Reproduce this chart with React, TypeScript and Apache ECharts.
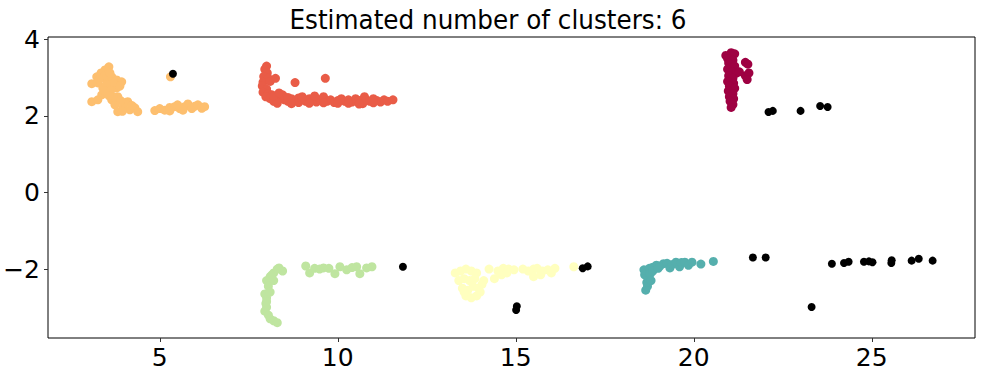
import React, { useEffect, useRef } from "react";
import * as echarts from "echarts";

const titleText = "Estimated number of clusters: 6";
const xTicks = [5, 10, 15, 20, 25];
const yTicks = [-2, 0, 2, 4];

const clusterColors = ["#9e0142", "#e95c47", "#fdbf6f", "#ffffbf", "#bfe5a0", "#55afad"];
const noiseColor = "#000000";

const cluster0 = [
  [21.05, 3.65], [20.9, 3.58], [21.15, 3.62], [20.95, 3.5], [21.1, 3.45], [20.98, 3.38],
  [21.15, 3.3], [20.95, 3.22], [21.08, 3.15], [21.2, 3.12], [20.98, 3.05], [21.1, 2.98],
  [20.95, 2.9], [21.12, 2.85], [21.0, 2.78], [21.15, 2.72], [20.97, 2.65], [21.1, 2.58],
  [21.0, 2.5], [21.12, 2.45], [21.02, 2.38], [21.1, 2.3], [21.05, 2.22], [21.45, 3.4],
  [21.52, 3.35], [21.45, 3.05], [21.55, 3.12], [21.5, 2.95], [21.28, 3.15],
];

const cluster1 = [
  [8.0, 3.3], [7.95, 3.22], [8.02, 3.12], [7.92, 3.03], [8.05, 2.98], [7.9, 2.88], [8.1, 2.9],
  [7.88, 2.78], [8.0, 2.7], [7.9, 2.62], [8.05, 2.58], [8.25, 2.98], [8.15, 2.55], [7.98, 2.5],
  [8.1, 2.45], [8.3, 2.45], [8.2, 2.38], [8.4, 2.5], [8.5, 2.42], [8.6, 2.38], [8.7, 2.45],
  [8.8, 2.4], [8.9, 2.47], [8.8, 2.87], [8.9, 2.35], [9.0, 2.42], [9.1, 2.38], [9.2, 2.45],
  [9.3, 2.4], [9.4, 2.36], [9.5, 2.42], [9.6, 2.5], [9.65, 2.98], [9.7, 2.38], [9.8, 2.42],
  [9.9, 2.35], [10.0, 2.4], [10.1, 2.45], [10.2, 2.38], [10.3, 2.42], [10.4, 2.36], [10.5, 2.45],
  [10.6, 2.4], [10.7, 2.32], [10.75, 2.5], [10.8, 2.42], [10.9, 2.38], [11.0, 2.45], [11.1, 2.4],
  [11.2, 2.36], [11.3, 2.42], [11.4, 2.38], [11.55, 2.42], [9.0, 2.5], [8.45, 2.55], [8.6, 2.48],
  [10.3, 2.33], [9.35, 2.52], [8.3, 2.33], [8.7, 2.32], [9.2, 2.33], [9.6, 2.34], [10.0, 2.33],
  [10.6, 2.31], [11.0, 2.34], [8.2, 2.52], [8.35, 2.6],
];

const cluster2 = [
  [3.57, 3.28], [3.46, 3.2], [3.35, 3.12], [3.23, 3.02], [3.09, 2.84], [3.26, 2.86], [3.51, 2.94],
  [3.65, 3.02], [3.79, 2.94], [3.93, 2.89], [3.4, 2.73], [3.6, 2.76], [3.79, 2.73], [3.37, 2.55],
  [3.54, 2.6], [3.09, 2.37], [3.26, 2.42], [3.65, 2.42], [3.82, 2.5], [3.74, 2.29], [3.82, 2.11],
  [3.96, 2.21], [4.1, 2.37], [4.16, 2.16], [4.3, 2.21], [4.38, 2.11], [4.02, 2.34], [3.7, 2.5],
  [3.45, 3.05], [3.6, 3.12], [3.7, 2.85], [3.5, 2.82], [3.3, 2.95], [3.45, 2.66], [3.62, 2.66],
  [3.88, 2.78], [3.9, 2.4], [3.58, 2.52], [3.95, 2.12], [4.22, 2.27],
  [5.3, 3.02],
  [4.86, 2.14], [5.0, 2.19], [5.14, 2.15], [5.28, 2.22], [5.42, 2.24], [5.56, 2.19], [5.7, 2.24],
  [5.79, 2.31], [5.9, 2.19], [5.98, 2.25], [6.07, 2.29], [6.18, 2.2], [6.26, 2.24], [5.65, 2.15],
  [5.28, 2.13], [5.5, 2.29],
];

const cluster3 = [
  [13.3, -2.1], [13.45, -2.05], [13.6, -2.0], [13.75, -2.05], [13.9, -2.1], [13.4, -2.3],
  [13.55, -2.25], [13.7, -2.3], [13.85, -2.25], [13.5, -2.5], [13.65, -2.55], [13.8, -2.45],
  [13.95, -2.5], [14.05, -2.4], [13.6, -2.7], [13.75, -2.75], [13.9, -2.7], [14.0, -2.6],
  [13.55, -2.6], [14.1, -2.3],
  [14.25, -2.0], [14.5, -2.05], [14.65, -1.98], [14.8, -2.0], [14.95, -2.02], [14.6, -2.15],
  [14.4, -2.25], [14.75, -2.1], [15.2, -2.0], [15.35, -2.05], [15.5, -2.0], [15.6, -1.98],
  [15.75, -2.05], [15.9, -2.02], [16.0, -2.1], [15.7, -2.15], [15.5, -2.2], [16.1, -1.98],
  [16.63, -1.94],
];

const cluster4 = [
  [8.35, -1.97], [8.45, -2.05], [8.2, -2.1], [8.1, -2.2], [8.0, -2.3], [8.2, -2.3], [8.05, -2.45],
  [7.95, -2.65], [8.0, -2.75], [7.98, -2.9], [8.0, -3.0], [7.95, -3.1], [8.05, -3.2], [8.1, -3.3],
  [8.2, -3.35], [8.3, -3.4], [8.1, -2.6], [8.0, -2.85], [8.15, -2.15], [8.3, -2.0],
  [9.1, -1.92], [9.21, -2.1], [9.35, -1.98], [9.49, -2.0], [9.6, -1.97], [9.75, -1.98],
  [9.92, -2.12], [10.06, -1.94], [10.25, -2.02], [10.4, -1.96], [10.53, -1.94], [10.62, -2.12],
  [10.81, -1.97], [10.96, -1.94],
];

const cluster5 = [
  [18.65, -2.55], [18.7, -2.45], [18.68, -2.35], [18.72, -2.25], [18.62, -2.15], [18.7, -2.08],
  [18.6, -2.02], [18.75, -1.98], [18.85, -1.95], [18.78, -2.12], [18.8, -2.3], [18.95, -1.9],
  [19.05, -1.92], [19.15, -1.86], [19.25, -1.85], [19.33, -1.97], [19.4, -1.88], [19.5, -1.82],
  [19.6, -1.94], [19.65, -1.83], [19.75, -1.82], [19.85, -1.9], [19.95, -1.82], [20.2, -1.87],
  [20.55, -1.8], [18.85, -2.05], [19.0, -1.98],
];

const noise = [
  [5.37, 3.1], [22.1, 2.1], [22.22, 2.13], [23.0, 2.13], [23.55, 2.26], [23.76, 2.23],
  [11.83, -1.94], [16.88, -1.98], [17.02, -1.93], [15.03, -2.97], [15.01, -3.07],
  [21.66, -1.7], [22.02, -1.7], [23.88, -1.86], [24.22, -1.84], [24.35, -1.81], [24.78, -1.81],
  [24.92, -1.8], [25.02, -1.82], [25.56, -1.77], [25.55, -1.84], [26.12, -1.78], [26.32, -1.73],
  [26.71, -1.78], [23.31, -2.99],
];

const clusters = [cluster0, cluster1, cluster2, cluster3, cluster4, cluster5];

export default function App() {
  const ref = useRef<HTMLDivElement>(null);
  useEffect(() => {
    document.body.style.margin = "0";
    if (!ref.current) return;
    const chart = echarts.init(ref.current, null, { renderer: "svg" });
    const font = "DejaVu Sans";
    const series: any[] = clusters.map((d, i) => ({
      type: "scatter",
      data: d,
      symbol: "circle",
      symbolSize: 9,
      itemStyle: { color: clusterColors[i], opacity: 1 },
      silent: true,
    }));
    series.push({
      type: "scatter",
      data: noise,
      symbol: "circle",
      symbolSize: 8,
      itemStyle: { color: noiseColor, opacity: 1 },
      silent: true,
    });
    chart.setOption({
      animation: false,
      backgroundColor: "#ffffff",
      grid: {
        left: 48,
        top: 37,
        right: 12,
        bottom: 34,
        show: true,
        borderColor: "#000000",
        borderWidth: 1,
        containLabel: false,
      },
      graphic: [
        {
          type: "text",
          x: 488,
          y: 20,
          scaleX: 0.95,
          style: {
            text: titleText,
            fontFamily: font,
            fontSize: 26,
            fill: "#000000",
            textAlign: "center",
            textVerticalAlign: "middle",
          },
        },
      ],
      xAxis: {
        type: "value",
        min: 1.86,
        max: 27.9,
        splitLine: { show: false },
        axisLine: { show: false, onZero: false },
        axisTick: {
          show: true,
          customValues: xTicks,
          length: 4,
          lineStyle: { color: "#333333", width: 1 },
        },
        axisLabel: {
          customValues: xTicks,
          fontFamily: font,
          fontSize: 25,
          color: "#000000",
          margin: 7,
        },
      },
      yAxis: {
        type: "value",
        min: -3.8,
        max: 4.06,
        splitLine: { show: false },
        axisLine: { show: false, onZero: false },
        axisTick: {
          show: true,
          customValues: yTicks,
          length: 4,
          lineStyle: { color: "#333333", width: 1 },
        },
        axisLabel: {
          customValues: yTicks,
          fontFamily: font,
          fontSize: 25,
          color: "#000000",
          margin: 8,
          formatter: (v: number) => String(v).replace("-", "\u2212"),
        },
      },
      series,
    });
    return () => chart.dispose();
  }, []);
  return <div ref={ref} style={{ width: 987, height: 372 }} />;
}
